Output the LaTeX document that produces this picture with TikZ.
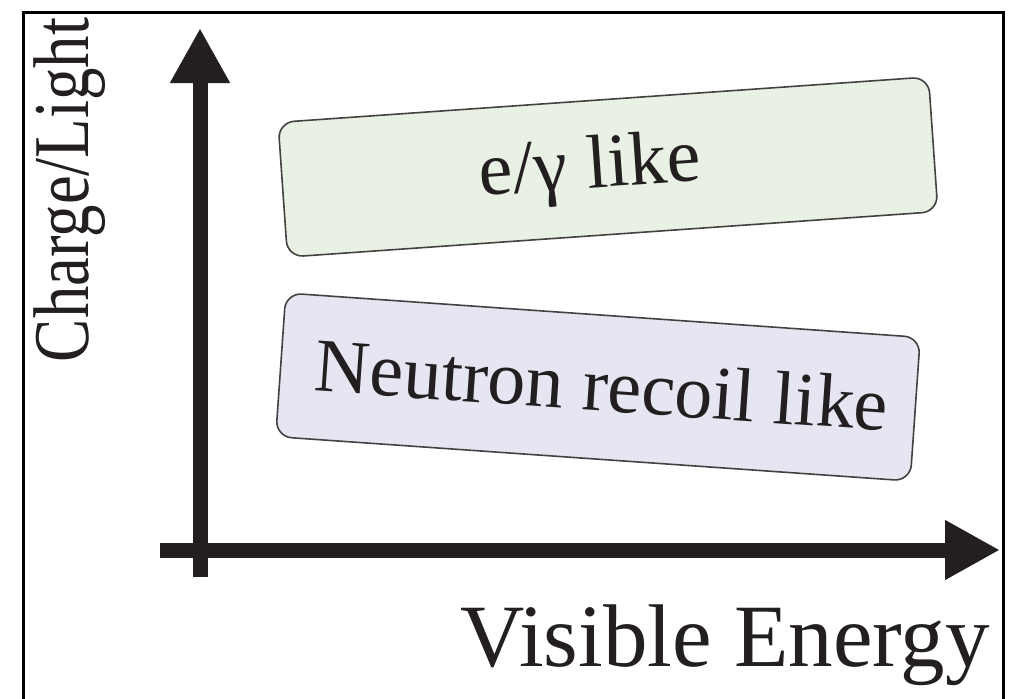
\documentclass[tikz,border=0pt]{standalone}
\usepackage{fontspec}
\setmainfont{Liberation Serif}
\usetikzlibrary{arrows.meta}
\definecolor{ink}{RGB}{35,31,32}
\definecolor{greenfill}{RGB}{232,241,228}
\definecolor{purplefill}{RGB}{230,230,242}
\begin{document}
\begin{tikzpicture}[x=0.5pt,y=-0.5pt,
  axis/.style={line width=7.5pt, draw=ink, -{Triangle[length=27.5pt,width=28pt]}},
  band/.style={draw=ink!85, line width=0.8pt, rounded corners=8pt, inner sep=0pt},
  bandtext/.style={font=\fontsize{38pt}{40pt}\selectfont, text=ink, inner sep=0pt},
  axislabel/.style={text=ink, inner sep=0pt}]
\useasboundingbox (0,0) rectangle (1014,698);
\draw[line width=1.5pt, black] (23,702) -- (23,12) -- (1003,12) -- (1003,702);
% bands
\node[band, fill=greenfill, rotate=4, minimum width=326pt, minimum height=67.5pt] (gbox) at (608,167) {};
\node[band, fill=purplefill, rotate=-4, minimum width=318pt, minimum height=72pt] (pbox) at (598,387) {};
\node[bandtext, rotate=4] (gtext) at (590,170) {e/γ like};
\node[bandtext, rotate=-4] (ptext) at (602,385) {Neutron recoil like};
% axes
\coordinate (ybot) at (200,577);
\coordinate (ytop) at (200,28);
\coordinate (xleft) at (160,550);
\coordinate (xright) at (1000,550);
\draw[axis] (ybot) -- (ytop);
\draw[axis] (xleft) -- (xright);
% labels
\node[axislabel, rotate=90, anchor=base, font=\fontsize{39.5pt}{42pt}\selectfont] (ylab) at (88,190) {\scalebox{0.82}[1]{Charge/Light}};
\node[axislabel, anchor=base east, font=\fontsize{44.5pt}{46pt}\selectfont] (xlab) at (990,666) {Visible Energy};
\end{tikzpicture}
\end{document}
